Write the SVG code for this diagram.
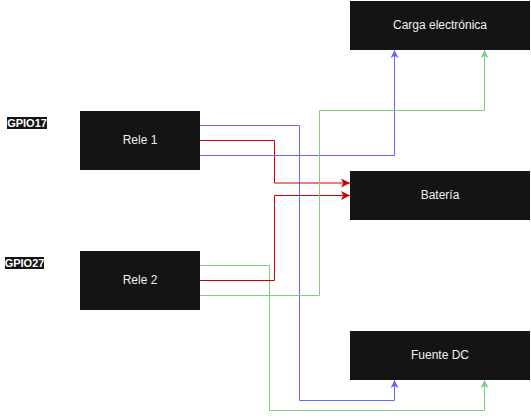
<svg xmlns="http://www.w3.org/2000/svg" width="531" height="420" viewBox="0 0 531 420">
<style>
.box{fill:#141414;}
.t{font-family:"Liberation Sans",Arial,sans-serif;font-size:12px;fill:#f0f0f0;text-anchor:middle;dominant-baseline:central;}
.lbl{font-family:"Liberation Sans",Arial,sans-serif;font-size:11px;font-weight:bold;fill:#ffffff;text-anchor:middle;dominant-baseline:central;}
.c{fill:none;stroke-width:1;}
.blue{stroke:#6666ff;}
.green{stroke:#82cc82;}
.red{stroke:#cc0000;}
</style>
<defs>
<marker id="ab" viewBox="0 0 10 10" refX="10" refY="5" markerWidth="8" markerHeight="8" markerUnits="userSpaceOnUse" orient="auto"><path d="M0,0 L10,5 L0,10 L2.5,5 Z" fill="#6666ff"/></marker>
<marker id="ag" viewBox="0 0 10 10" refX="10" refY="5" markerWidth="8" markerHeight="8" markerUnits="userSpaceOnUse" orient="auto"><path d="M0,0 L10,5 L0,10 L2.5,5 Z" fill="#82cc82"/></marker>
<marker id="ar" viewBox="0 0 10 10" refX="10" refY="5" markerWidth="9" markerHeight="9" markerUnits="userSpaceOnUse" orient="auto"><path d="M0,0 L10,5 L0,10 L2.5,5 Z" fill="#cc0000"/></marker>
</defs>
<g id="connectors">
<path class="c blue" d="M200,125.5 H299.5 V400.5 H394.5 V380" marker-end="url(#ab)"/>
<path class="c red" d="M200,140.5 H274.5 V183 H350" marker-end="url(#ar)"/>
<path class="c blue" d="M200,155.5 H394.5 V50" marker-end="url(#ab)"/>
<path class="c green" d="M200,265.5 H269.5 V410.5 H484.5 V380" marker-end="url(#ag)"/>
<path class="c red" d="M200,280.5 H274.5 V195.5 H350" marker-end="url(#ar)"/>
<path class="c green" d="M200,295.5 H319.5 V110.5 H484.5 V50" marker-end="url(#ag)"/>
</g>
<g id="gpio17">
<rect x="7" y="117" width="40" height="12" fill="#141414"/>
<text class="lbl" x="27" y="123">GPIO17</text>
</g>
<g id="gpio27">
<rect x="5" y="257" width="39" height="12" fill="#141414"/>
<text class="lbl" x="24.5" y="263">GPIO27</text>
</g>
<g id="rele1">
<rect class="box" x="80" y="111" width="120" height="59"/>
<text class="t" x="140" y="140">Rele 1</text>
</g>
<g id="rele2">
<rect class="box" x="80" y="251" width="120" height="59"/>
<text class="t" x="140" y="280">Rele 2</text>
</g>
<g id="carga">
<rect class="box" x="350" y="1" width="180" height="49"/>
<text class="t" x="440" y="25">Carga electrónica</text>
</g>
<g id="bateria">
<rect class="box" x="350" y="171" width="180" height="49"/>
<text class="t" x="440" y="195">Batería</text>
</g>
<g id="fuente">
<rect class="box" x="350" y="331" width="180" height="49"/>
<text class="t" x="440" y="355">Fuente DC</text>
</g>
</svg>
